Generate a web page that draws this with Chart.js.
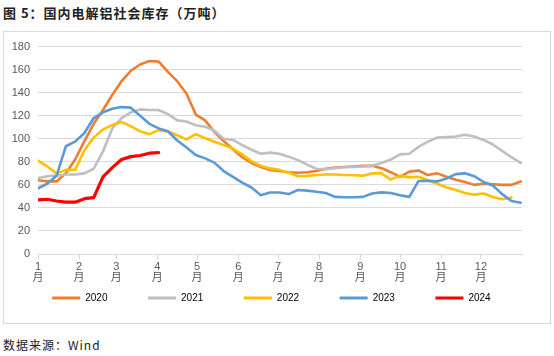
<!DOCTYPE html>
<html>
<head>
<meta charset="utf-8">
<script src="https://cdn.jsdelivr.net/npm/chart.js@4.4.1/dist/chart.umd.min.js"></script>
<style>
html,body{margin:0;padding:0;background:#fff;}
body{width:554px;height:356px;position:relative;overflow:hidden;font-family:"Noto Sans CJK SC",sans-serif;}
#title{position:absolute;left:3px;top:3px;font-size:13px;font-weight:bold;letter-spacing:1px;color:#222;white-space:nowrap;line-height:19px;}
#box{position:absolute;left:3px;top:31px;width:546px;height:291px;border:1px solid #d9d9d9;}
#c{position:absolute;left:0;top:0;}
#src{position:absolute;left:3px;top:336px;font-size:12px;letter-spacing:1px;color:#222;white-space:nowrap;line-height:17px;}
</style>
</head>
<body>
<div id="title">图 5：国内电解铝社会库存（万吨）</div>
<div id="box"><canvas id="c" width="546" height="291"></canvas></div>
<div id="src">数据来源：Wind</div>
<script>
// ---- data ----
const monthLabels = ['1月','2月','3月','4月','5月','6月','7月','8月','9月','10月','11月','12月'];
const monthStartDays = [0,31,59,90,120,151,181,212,243,273,304,334];
const yTicks = [0,20,40,60,80,100,120,140,160,180];
const seriesNames = ['2020','2021','2022','2023','2024'];

const s2020 = [64,63,63,70,82,98,113,125,138,150,159,164.5,167.5,167,158,150,139,121,116,106,98,91,84,79,75.5,73,72,71,70.5,71,72,74,75,75.5,76,76.5,76.5,74.5,71,67,71.5,72.5,68.5,70,67,64.5,62.5,60,61,60.5,60,60,63];
const s2021 = [66,67.5,68,69,69,70,74,89,109,118,123,125.5,125,125,121.4,116,115,111.7,110.5,107,100,99,94.5,90.5,87,88,87,84.5,81.5,77.5,74,73.5,74.5,75.3,75.6,76,76.5,79,82,86.5,87,93,97.5,101,101.5,102,103.5,102,99,95,89.5,84,79];
const s2022 = [81,76,70,73,73,90,101,108,112,114.5,111,106.5,104,107.5,106.3,103,99.5,104,100.5,97.5,94.5,91.5,86.5,80.5,76.5,74.3,73,70.5,67.5,67.8,68.5,69,69,68.5,68.3,68,70,70,64.5,68,66.5,67,64,61,58,55.5,53,51.5,52.5,49.5,47.5,49,null];
const s2023 = [57,61,68,93.5,97.5,105,118,123,126,127.5,127,120,113,109,106.5,98.5,92.5,86,83,79.3,72,67,62,57.7,51,53.4,53.4,52,55.5,55,54,53,49.6,49.3,49.2,49.6,52.5,53.5,53,51,49.6,63.4,63.5,63,65.5,69.3,70,67.5,62.5,59.5,52,46,44.5];
const s2024 = [47,47.5,46,45,45,48,49,67,75,82,84.5,85.5,87.5,88];

const seriesData = [s2020, s2021, s2022, s2023, s2024];
const seriesColors = ['#ED7D31','#BFBFBF','#FFC000','#5B9BD5','#FF0000'];
const seriesWidths = [2.6,2.6,2.6,2.6,3.2];

const datasets = seriesData.map((arr, i) => ({
  label: seriesNames[i],
  data: arr.map((v, k) => ({x: k, y: v})),
  borderColor: seriesColors[i],
  backgroundColor: seriesColors[i],
  borderWidth: seriesWidths[i],
  pointRadius: 0,
  tension: 0,
  fill: false,
  order: seriesNames.length - 1 - i,
  borderJoinStyle: 'round',
  borderCapStyle: 'round'
}));

new Chart(document.getElementById('c'), {
  type: 'line',
  data: {datasets},
  options: {
    responsive: false,
    animation: false,
    devicePixelRatio: 1,
    layout: {padding: {left: 0, right: 0, top: 14, bottom: 10}},
    plugins: {
      tooltip: {enabled: false},
      legend: {
        position: 'bottom',
        align: 'center',
        labels: {
          boxWidth: 28,
          boxHeight: 3,
          padding: 10,
          color: '#595959',
          font: {family: 'Liberation Sans, Arial, sans-serif', size: 10},
          generateLabels: () => seriesNames.map((name, i) => ({
            text: name + ' '.repeat(i < seriesNames.length - 1 ? 11 : 4),
            fillStyle: seriesColors[i],
            strokeStyle: seriesColors[i],
            lineWidth: 0,
            hidden: false,
            datasetIndex: i
          }))
        }
      }
    },
    scales: {
      x: {
        type: 'linear',
        min: 0,
        max: 365 / 7,
        afterBuildTicks: (s) => { s.ticks = monthStartDays.map(d => ({value: d / 7})); },
        afterFit: (s) => { s.height = 29; },
        grid: {drawOnChartArea: false, drawTicks: true, tickLength: 5, color: '#d9d9d9'},
        border: {display: true, color: '#d9d9d9'},
        ticks: {
          autoSkip: false,
          maxRotation: 0,
          minRotation: 0,
          padding: 3,
          color: '#595959',
          font: {family: 'Liberation Sans, Noto Sans CJK SC, sans-serif', size: 11, lineHeight: 0.95},
          callback: (v, idx) => { const l = monthLabels[idx] || ''; return [l.slice(0, -1), l.slice(-1)]; }
        }
      },
      y: {
        min: 0,
        max: 180,
        afterBuildTicks: (s) => { s.ticks = yTicks.map(v => ({value: v})); },
        afterFit: (s) => { s.width = 34; },
        grid: {color: '#d9d9d9', drawTicks: false},
        border: {display: false},
        ticks: {
          padding: 8,
          color: '#595959',
          font: {family: 'Liberation Sans, Arial, sans-serif', size: 11}
        }
      },
      yR: {
        position: 'right',
        min: 0,
        max: 1,
        grid: {display: false},
        border: {display: false},
        ticks: {display: false},
        afterFit: (s) => { s.width = 28; }
      }
    }
  }
});
</script>
</body>
</html>
